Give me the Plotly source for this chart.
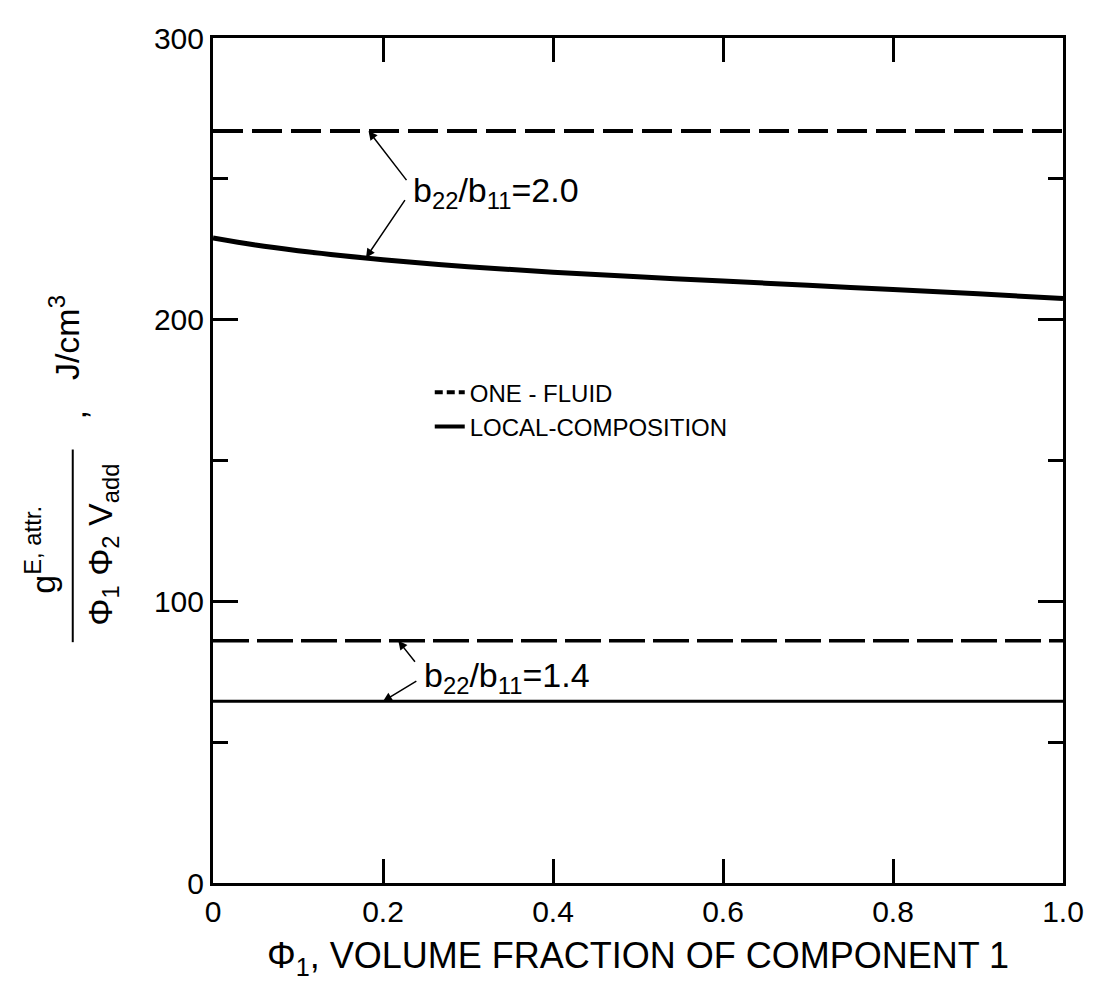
import plotly.graph_objects as go

# ---------------- data ----------------
phi1 = [0.0, 0.05, 0.1, 0.15, 0.2, 0.3, 0.4, 0.5, 0.6, 0.7, 0.8, 0.9, 1.0]

one_fluid_20 = [267, 267, 267, 267, 267, 267, 267, 267, 267, 267, 267, 267, 267]
local_comp_20 = [229, 226.5, 224.5, 222.8, 221.3, 218.8, 216.8, 215.2, 213.7, 212.2, 210.7, 209.2, 207.5]

one_fluid_14 = [86, 86, 86, 86, 86, 86, 86, 86, 86, 86, 86, 86, 86]
local_comp_14 = [64.5, 64.5, 64.5, 64.5, 64.5, 64.5, 64.5, 64.5, 64.5, 64.5, 64.5, 64.5, 64.5]

x_tickvals = [0, 0.2, 0.4, 0.6, 0.8, 1.0]
x_ticktext = ["0", "0.2", "0.4", "0.6", "0.8", "1.0"]
y_tickvals = [0, 100, 200, 300]
y_ticktext = ["0", "100", "200", "300"]

legend_names = ["ONE - FLUID", "LOCAL-COMPOSITION"]
label_20 = "b<sub>22</sub>/b<sub>11</sub>=2.0"
label_14 = "b<sub>22</sub>/b<sub>11</sub>=1.4"

FONT = "Liberation Sans"
BLACK = "black"

fig = go.Figure()

fig.add_trace(go.Scatter(x=phi1, y=one_fluid_20, mode="lines", showlegend=False,
                         line=dict(color=BLACK, width=4, dash="30px,9px")))
fig.add_trace(go.Scatter(x=phi1, y=local_comp_20, mode="lines", showlegend=False,
                         line=dict(color=BLACK, width=5, shape="spline")))
fig.add_trace(go.Scatter(x=phi1, y=one_fluid_14, mode="lines", showlegend=False,
                         line=dict(color=BLACK, width=3.5, dash="36px,8px")))
fig.add_trace(go.Scatter(x=phi1, y=local_comp_14, mode="lines", showlegend=False,
                         line=dict(color=BLACK, width=3)))

# legend-only entries
fig.add_trace(go.Scatter(x=[None], y=[None], mode="lines", name=legend_names[0],
                         line=dict(color=BLACK, width=4, dash="8px,4px")))
fig.add_trace(go.Scatter(x=[None], y=[None], mode="lines", name=legend_names[1],
                         line=dict(color=BLACK, width=4)))

# ---------------- labels with arrows ----------------
ann = []
ann.append(dict(x=0.233, y=245, xref="x", yref="y", text=label_20, showarrow=False,
                xanchor="left", yanchor="middle", font=dict(family=FONT, size=34, color=BLACK)))
ann.append(dict(x=0.183, y=267, ax=0.229, ay=249, xref="x", yref="y", axref="x", ayref="y",
                text="", showarrow=True, arrowhead=2, arrowsize=1.2, arrowwidth=1.5, arrowcolor=BLACK))
ann.append(dict(x=0.180, y=222, ax=0.227, ay=243, xref="x", yref="y", axref="x", ayref="y",
                text="", showarrow=True, arrowhead=2, arrowsize=1.2, arrowwidth=1.5, arrowcolor=BLACK))

ann.append(dict(x=0.246, y=73, xref="x", yref="y", text=label_14, showarrow=False,
                xanchor="left", yanchor="middle", font=dict(family=FONT, size=34, color=BLACK)))
ann.append(dict(x=0.218, y=86, ax=0.239, ay=78, xref="x", yref="y", axref="x", ayref="y",
                text="", showarrow=True, arrowhead=2, arrowsize=1.2, arrowwidth=1.5, arrowcolor=BLACK))
ann.append(dict(x=0.200, y=64.5, ax=0.241, ay=72, xref="x", yref="y", axref="x", ayref="y",
                text="", showarrow=True, arrowhead=2, arrowsize=1.2, arrowwidth=1.5, arrowcolor=BLACK))

# ---------------- y-axis title built as a fraction ----------------
ann.append(dict(x=-0.203, y=0.395, xref="paper", yref="paper", text="g<sup>E, attr.</sup>",
                textangle=-90, showarrow=False, xanchor="center", yanchor="middle",
                font=dict(family=FONT, size=34, color=BLACK)))
ann.append(dict(x=-0.131, y=0.40, xref="paper", yref="paper",
                text="Φ<sub>1</sub> Φ<sub>2</sub> V<sub>add</sub>",
                textangle=-90, showarrow=False, xanchor="center", yanchor="middle",
                font=dict(family=FONT, size=34, color=BLACK)))
ann.append(dict(x=-0.164, y=0.554, xref="paper", yref="paper", text=",",
                textangle=-90, showarrow=False, xanchor="center", yanchor="middle",
                font=dict(family=FONT, size=34, color=BLACK)))
ann.append(dict(x=-0.174, y=0.645, xref="paper", yref="paper", text="J/cm<sup>3</sup>",
                textangle=-90, showarrow=False, xanchor="center", yanchor="middle",
                font=dict(family=FONT, size=34, color=BLACK)))

fig.add_shape(type="line", xref="paper", yref="paper", x0=-0.165, x1=-0.165, y0=0.285, y1=0.513,
              line=dict(color=BLACK, width=2))

fig.update_layout(
    width=1078, height=973,
    margin=dict(l=205, r=23, t=30, b=98),
    paper_bgcolor="white", plot_bgcolor="white",
    font=dict(family=FONT, color=BLACK, size=28),
    annotations=ann,
    legend=dict(x=0.255, y=0.607, xanchor="left", yanchor="top",
                bgcolor="rgba(0,0,0,0)", font=dict(family=FONT, size=24, color=BLACK),
                tracegroupgap=4),
    xaxis=dict(range=[0, 1], tickvals=x_tickvals, ticktext=x_ticktext, automargin=False,
               showline=True, linewidth=3, linecolor=BLACK, mirror="ticks",
               ticks="inside", ticklen=24, tickwidth=3, tickcolor=BLACK,
               showgrid=False, zeroline=False,
               tickfont=dict(family=FONT, size=30, color=BLACK),
               title=dict(text="Φ<sub>1</sub>, VOLUME FRACTION OF COMPONENT 1",
                          font=dict(family=FONT, size=36, color=BLACK), standoff=30)),
    yaxis=dict(range=[0, 300], tickvals=y_tickvals, ticktext=y_ticktext, automargin=False,
               showline=True, linewidth=3, linecolor=BLACK, mirror="ticks",
               ticks="inside", ticklen=25, tickwidth=3, tickcolor=BLACK,
               minor=dict(dtick=50, ticks="inside", ticklen=15, tickwidth=3, tickcolor=BLACK),
               showgrid=False, zeroline=False,
               tickfont=dict(family=FONT, size=30, color=BLACK)),
)

fig.write_html("out.html")
